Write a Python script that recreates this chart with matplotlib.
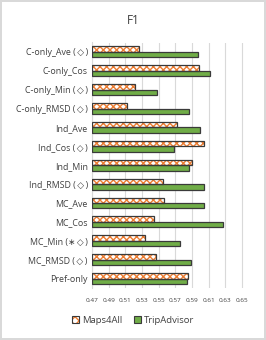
import numpy as np
import matplotlib.pyplot as plt
from matplotlib.patches import Patch
from matplotlib.legend_handler import HandlerTuple

plt.rcParams['font.family'] = ['Open Sans', 'DejaVu Sans']

d = '(\u2009\u25c7\u2009)'
categories = ['C-only_Ave ' + d, 'C-only_Cos', 'C-only_Min ' + d, 'C-only_RMSD ' + d,
              'Ind_Ave', 'Ind_Cos ' + d, 'Ind_Min', 'Ind_RMSD ' + d,
              'MC_Ave', 'MC_Cos', 'MC_Min (\u2217\u2009\u25c7\u2009)', 'MC_RMSD ' + d, 'Pref-only']
maps4all = [0.526, 0.599, 0.522, 0.5125, 0.5725, 0.604, 0.590, 0.555,
            0.5565, 0.545, 0.5335, 0.5465, 0.585]
tripadvisor = [0.597, 0.612, 0.5475, 0.587, 0.600, 0.569, 0.587, 0.604,
               0.605, 0.6275, 0.576, 0.589, 0.5845]
xticks = [0.47, 0.49, 0.51, 0.53, 0.55, 0.57, 0.59, 0.61, 0.63, 0.65]

orange = '#ED7D31'
green = '#70AD47'
edge = '#3a3a3a'

fig = plt.figure(figsize=(2.66, 3.4), dpi=100)
fig.patch.set_edgecolor('#d9d9d9')
fig.patch.set_linewidth(1.5)
ax = fig.add_axes([0.346, 0.153, 0.579, 0.722])

y = np.arange(len(categories))
h = 0.29
x0 = 0.47
w1 = np.array(maps4all) - x0
w2 = np.array(tripadvisor) - x0
# checkered orange bars: hatch fill first, then dark outline
ax.barh(y - h/2, w1, h, left=x0, color='white', edgecolor=orange, hatch='xxxxx', linewidth=0, zorder=3)
ax.barh(y - h/2, w1, h, left=x0, fill=False, edgecolor=edge, linewidth=0.9, zorder=4)
ax.barh(y + h/2, w2, h, left=x0, color=green, edgecolor=edge, linewidth=0.9, zorder=3)

ax.set_xlim(0.47, 0.655)
ax.set_ylim(len(categories) - 0.5, -0.5)
ax.set_xticks(xticks)
ax.set_xticklabels(['%.2f' % t for t in xticks], fontsize=4.6, color='#404040')
ax.set_yticks(y)
ax.set_yticklabels(categories, fontsize=6.4, color='#404040')
ax.tick_params(length=0, pad=3)
ax.tick_params(axis='x', pad=7)
ax.grid(axis='x', color='#d9d9d9', linewidth=0.8, zorder=0)
for s in ['top', 'right', 'bottom']:
    ax.spines[s].set_visible(False)
ax.spines['left'].set_color('#d9d9d9')

fig.text(0.5, 0.94, 'F1', ha='center', va='center', fontsize=8.5, color='#404040')

h_orange = (Patch(facecolor='white', edgecolor=orange, hatch='xxxx', linewidth=0),
            Patch(fill=False, edgecolor=edge, linewidth=0.8))
h_green = Patch(facecolor=green, edgecolor=edge, linewidth=0.8)
leg = fig.legend([h_orange, h_green], ['Maps4All', 'TripAdvisor'], loc='center',
                 bbox_to_anchor=(0.5, 0.058), ncol=2, frameon=False, fontsize=6.8,
                 handlelength=0.8, handleheight=0.8, handletextpad=0.3, columnspacing=1.2,
                 handler_map={tuple: HandlerTuple(ndivide=1, pad=0)})
for t in leg.get_texts():
    t.set_color('#404040')

fig.savefig('out.png', dpi=100)
